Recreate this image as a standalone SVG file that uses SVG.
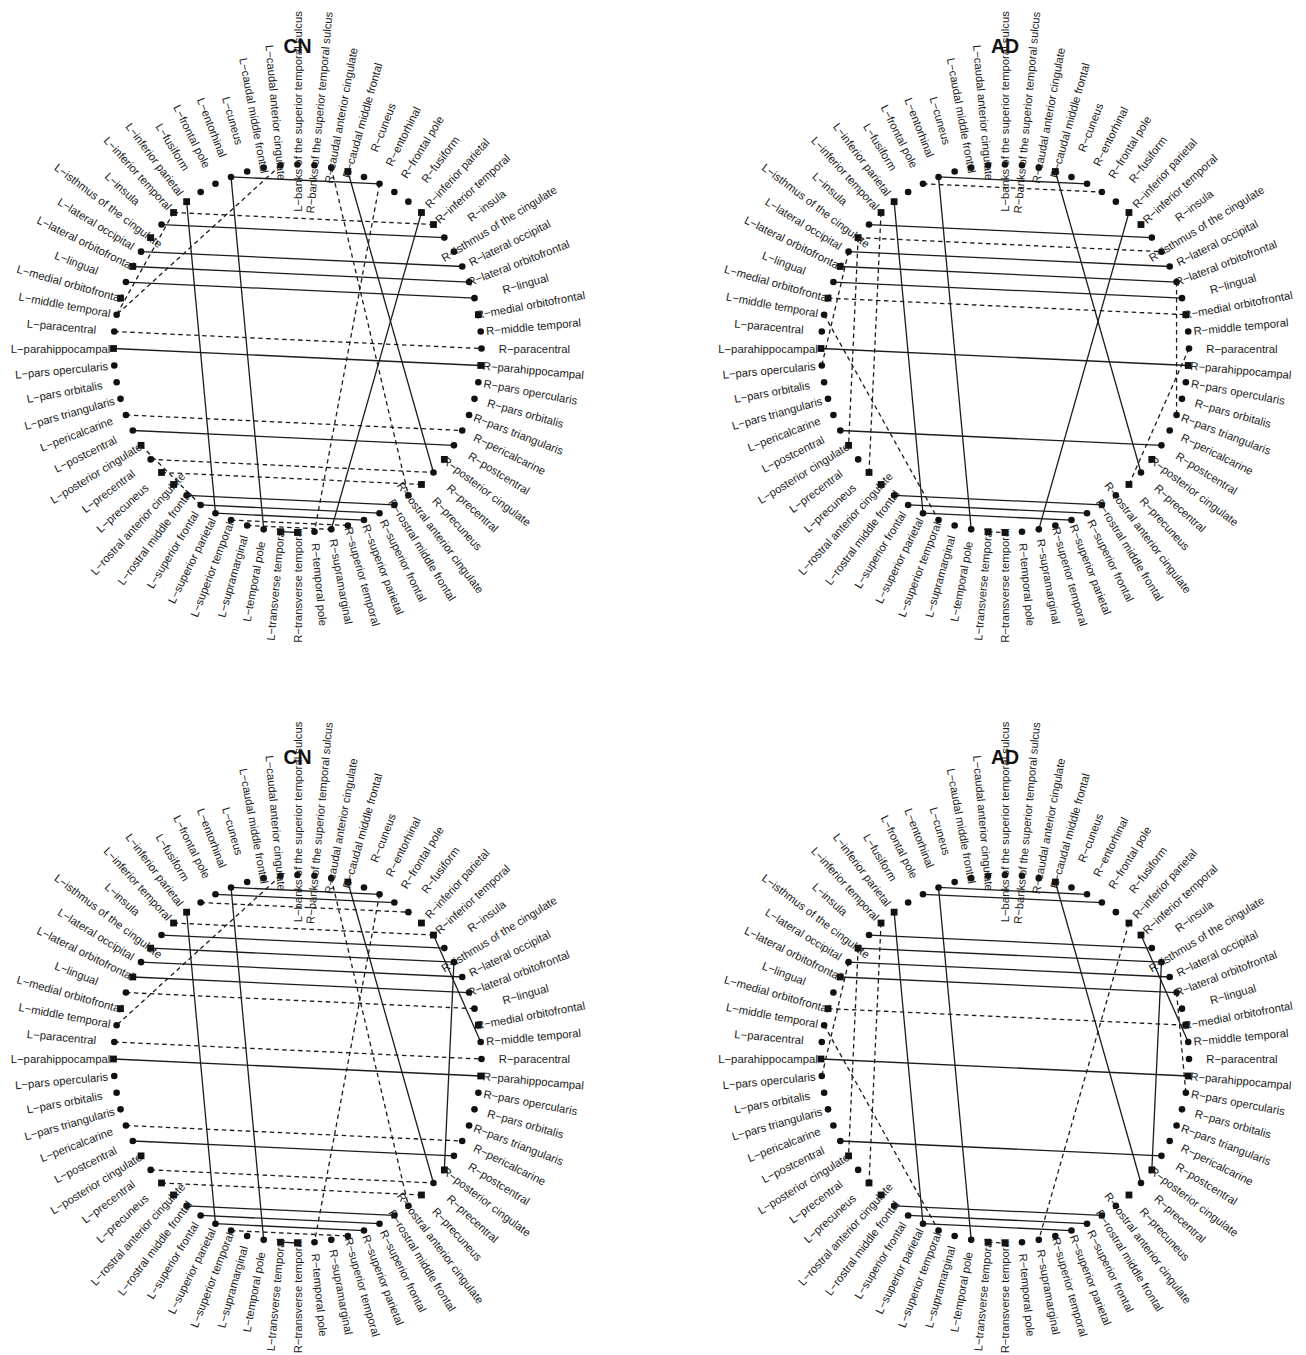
<svg xmlns="http://www.w3.org/2000/svg" xmlns:xlink="http://www.w3.org/1999/xlink" width="1306" height="1355" viewBox="0 0 1306 1355">
<style>
.lbl{font-family:"Liberation Sans",Arial,sans-serif;font-size:11.3px;fill:#1a1a1a;text-anchor:middle;dominant-baseline:central}
.ttl{font-family:"Liberation Sans",Arial,sans-serif;font-size:19.5px;font-weight:bold;fill:#111;text-anchor:middle}
.e line{stroke:#1c1c1c;stroke-width:1.3;fill:none}
.e line.d{stroke-dasharray:4.5 3.5}
.nd{fill:#111}
</style>
<defs>
<circle id="dot" r="3.3"/>
<rect id="sq" x="-3.4" y="-3.4" width="6.8" height="6.8"/>
</defs>
<rect x="0" y="0" width="1306" height="1355" fill="#fff"/>

<!-- ===================== TOP LEFT : CN ===================== -->
<g id="cn1" transform="translate(297.5,348.5)">
<text class="ttl" x="0" y="-295.5">CN</text>
<g id="cn1-edges" class="e">
<line x1="-66.47" y1="-171.57" x2="82.02" y2="-164.71"/>
<line x1="-66.47" y1="-171.57" x2="-33.81" y2="180.87"/>
<line x1="50.35" y1="-176.98" x2="135.98" y2="123.96"/>
<line x1="123.96" y1="-135.98" x2="33.81" y2="180.87"/>
<line x1="-110.88" y1="-146.84" x2="-82.02" y2="164.71"/>
<line x1="-135.98" y1="-123.96" x2="146.84" y2="-110.88"/>
<line x1="-156.44" y1="-96.86" x2="164.71" y2="-82.02"/>
<line x1="-164.71" y1="-82.02" x2="171.57" y2="-66.47"/>
<line x1="-171.57" y1="-66.47" x2="176.98" y2="-50.35"/>
<line x1="-184" y1="0" x2="183.22" y2="16.98"/>
<line x1="-164.71" y1="82.02" x2="156.44" y2="96.86"/>
<line x1="-110.88" y1="146.84" x2="96.86" y2="156.44"/>
<line x1="-96.86" y1="156.44" x2="82.02" y2="164.71"/>
<line x1="-82.02" y1="164.71" x2="66.47" y2="171.57"/>
<line x1="-16.98" y1="183.22" x2="0" y2="184"/>
<line class="d" x1="-123.96" y1="-135.98" x2="135.98" y2="-123.96"/>
<line class="d" x1="-183.22" y1="-16.98" x2="184" y2="0"/>
<line class="d" x1="33.81" y1="-180.87" x2="110.88" y2="146.84"/>
<line class="d" x1="82.02" y1="-164.71" x2="16.98" y2="183.22"/>
<line class="d" x1="-171.57" y1="66.47" x2="164.71" y2="82.02"/>
<line class="d" x1="-146.84" y1="110.88" x2="135.98" y2="123.96"/>
<line class="d" x1="-135.98" y1="123.96" x2="123.96" y2="135.98"/>
<line class="d" x1="-66.47" y1="171.57" x2="50.35" y2="176.98"/>
<line class="d" x1="-50.35" y1="176.98" x2="33.81" y2="180.87"/>
<line class="d" x1="-16.98" y1="-183.22" x2="-180.87" y2="-33.81"/>
<line class="d" x1="-123.96" y1="-135.98" x2="-180.87" y2="-33.81"/>
<line class="d" x1="-156.44" y1="96.86" x2="-96.86" y2="156.44"/>
</g>
<g class="nd">
<g id="cn1-n0"><use href="#dot" x="0" y="-184"/><text class="lbl" transform="translate(0,-237) rotate(-90)">L−banks of the superior temporal sulcus</text></g>
<g id="cn1-n1"><use href="#dot" x="16.98" y="-183.22"/><text class="lbl" transform="translate(21.87,-235.99) rotate(-84.71)">R−banks of the superior temporal sulcus</text></g>
<g id="cn1-n2"><use href="#dot" x="33.81" y="-180.87"/><text class="lbl" transform="translate(43.55,-232.96) rotate(-79.41)">R−caudal anterior cingulate</text></g>
<g id="cn1-n3"><use href="#sq" x="50.35" y="-176.98"/><text class="lbl" transform="translate(64.86,-227.95) rotate(-74.12)">R−caudal middle frontal</text></g>
<g id="cn1-n4"><use href="#dot" x="66.47" y="-171.57"/><text class="lbl" transform="translate(85.61,-221) rotate(-68.82)">R−cuneus</text></g>
<g id="cn1-n5"><use href="#dot" x="82.02" y="-164.71"/><text class="lbl" transform="translate(105.64,-212.15) rotate(-63.53)">R−entorhinal</text></g>
<g id="cn1-n6"><use href="#dot" x="96.86" y="-156.44"/><text class="lbl" transform="translate(124.76,-201.5) rotate(-58.24)">R−frontal pole</text></g>
<g id="cn1-n7"><use href="#dot" x="110.88" y="-146.84"/><text class="lbl" transform="translate(142.82,-189.13) rotate(-52.94)">R−fusiform</text></g>
<g id="cn1-n8"><use href="#sq" x="123.96" y="-135.98"/><text class="lbl" transform="translate(159.67,-175.15) rotate(-47.65)">R−inferior parietal</text></g>
<g id="cn1-n9"><use href="#sq" x="135.98" y="-123.96"/><text class="lbl" transform="translate(175.15,-159.67) rotate(-42.35)">R−inferior temporal</text></g>
<g id="cn1-n10"><use href="#dot" x="146.84" y="-110.88"/><text class="lbl" transform="translate(189.13,-142.82) rotate(-37.06)">R−insula</text></g>
<g id="cn1-n11"><use href="#dot" x="156.44" y="-96.86"/><text class="lbl" transform="translate(201.5,-124.76) rotate(-31.76)">R−isthmus of the cingulate</text></g>
<g id="cn1-n12"><use href="#dot" x="164.71" y="-82.02"/><text class="lbl" transform="translate(212.15,-105.64) rotate(-26.47)">R−lateral occipital</text></g>
<g id="cn1-n13"><use href="#dot" x="171.57" y="-66.47"/><text class="lbl" transform="translate(221,-85.61) rotate(-21.18)">R−lateral orbitofrontal</text></g>
<g id="cn1-n14"><use href="#dot" x="176.98" y="-50.35"/><text class="lbl" transform="translate(227.95,-64.86) rotate(-15.88)">R−lingual</text></g>
<g id="cn1-n15"><use href="#sq" x="180.87" y="-33.81"/><text class="lbl" transform="translate(232.96,-43.55) rotate(-10.59)">R−medial orbitofrontal</text></g>
<g id="cn1-n16"><use href="#dot" x="183.22" y="-16.98"/><text class="lbl" transform="translate(235.99,-21.87) rotate(-5.29)">R−middle temporal</text></g>
<g id="cn1-n17"><use href="#dot" x="184" y="0"/><text class="lbl" transform="translate(237,0)">R−paracentral</text></g>
<g id="cn1-n18"><use href="#sq" x="183.22" y="16.98"/><text class="lbl" transform="translate(235.99,21.87) rotate(5.29)">R−parahippocampal</text></g>
<g id="cn1-n19"><use href="#dot" x="180.87" y="33.81"/><text class="lbl" transform="translate(232.96,43.55) rotate(10.59)">R−pars opercularis</text></g>
<g id="cn1-n20"><use href="#dot" x="176.98" y="50.35"/><text class="lbl" transform="translate(227.95,64.86) rotate(15.88)">R−pars orbitalis</text></g>
<g id="cn1-n21"><use href="#dot" x="171.57" y="66.47"/><text class="lbl" transform="translate(221,85.61) rotate(21.18)">R−pars triangularis</text></g>
<g id="cn1-n22"><use href="#dot" x="164.71" y="82.02"/><text class="lbl" transform="translate(212.15,105.64) rotate(26.47)">R−pericalcarine</text></g>
<g id="cn1-n23"><use href="#dot" x="156.44" y="96.86"/><text class="lbl" transform="translate(201.5,124.76) rotate(31.76)">R−postcentral</text></g>
<g id="cn1-n24"><use href="#sq" x="146.84" y="110.88"/><text class="lbl" transform="translate(189.13,142.82) rotate(37.06)">R−posterior cingulate</text></g>
<g id="cn1-n25"><use href="#dot" x="135.98" y="123.96"/><text class="lbl" transform="translate(175.15,159.67) rotate(42.35)">R−precentral</text></g>
<g id="cn1-n26"><use href="#sq" x="123.96" y="135.98"/><text class="lbl" transform="translate(159.67,175.15) rotate(47.65)">R−precuneus</text></g>
<g id="cn1-n27"><use href="#dot" x="110.88" y="146.84"/><text class="lbl" transform="translate(142.82,189.13) rotate(52.94)">R−rostral anterior cingulate</text></g>
<g id="cn1-n28"><use href="#dot" x="96.86" y="156.44"/><text class="lbl" transform="translate(124.76,201.5) rotate(58.24)">R−rostral middle frontal</text></g>
<g id="cn1-n29"><use href="#dot" x="82.02" y="164.71"/><text class="lbl" transform="translate(105.64,212.15) rotate(63.53)">R−superior frontal</text></g>
<g id="cn1-n30"><use href="#dot" x="66.47" y="171.57"/><text class="lbl" transform="translate(85.61,221) rotate(68.82)">R−superior parietal</text></g>
<g id="cn1-n31"><use href="#dot" x="50.35" y="176.98"/><text class="lbl" transform="translate(64.86,227.95) rotate(74.12)">R−superior temporal</text></g>
<g id="cn1-n32"><use href="#dot" x="33.81" y="180.87"/><text class="lbl" transform="translate(43.55,232.96) rotate(79.41)">R−supramarginal</text></g>
<g id="cn1-n33"><use href="#dot" x="16.98" y="183.22"/><text class="lbl" transform="translate(21.87,235.99) rotate(84.71)">R−temporal pole</text></g>
<g id="cn1-n34"><use href="#sq" x="0" y="184"/><text class="lbl" transform="translate(0,237) rotate(-90)">R−transverse temporal</text></g>
<g id="cn1-n35"><use href="#sq" x="-16.98" y="183.22"/><text class="lbl" transform="translate(-21.87,235.99) rotate(-84.71)">L−transverse temporal</text></g>
<g id="cn1-n36"><use href="#dot" x="-33.81" y="180.87"/><text class="lbl" transform="translate(-43.55,232.96) rotate(-79.41)">L−temporal pole</text></g>
<g id="cn1-n37"><use href="#dot" x="-50.35" y="176.98"/><text class="lbl" transform="translate(-64.86,227.95) rotate(-74.12)">L−supramarginal</text></g>
<g id="cn1-n38"><use href="#dot" x="-66.47" y="171.57"/><text class="lbl" transform="translate(-85.61,221) rotate(-68.82)">L−superior temporal</text></g>
<g id="cn1-n39"><use href="#dot" x="-82.02" y="164.71"/><text class="lbl" transform="translate(-105.64,212.15) rotate(-63.53)">L−superior parietal</text></g>
<g id="cn1-n40"><use href="#dot" x="-96.86" y="156.44"/><text class="lbl" transform="translate(-124.76,201.5) rotate(-58.24)">L−superior frontal</text></g>
<g id="cn1-n41"><use href="#dot" x="-110.88" y="146.84"/><text class="lbl" transform="translate(-142.82,189.13) rotate(-52.94)">L−rostral middle frontal</text></g>
<g id="cn1-n42"><use href="#sq" x="-123.96" y="135.98"/><text class="lbl" transform="translate(-159.67,175.15) rotate(-47.65)">L−rostral anterior cingulate</text></g>
<g id="cn1-n43"><use href="#sq" x="-135.98" y="123.96"/><text class="lbl" transform="translate(-175.15,159.67) rotate(-42.35)">L−precuneus</text></g>
<g id="cn1-n44"><use href="#dot" x="-146.84" y="110.88"/><text class="lbl" transform="translate(-189.13,142.82) rotate(-37.06)">L−precentral</text></g>
<g id="cn1-n45"><use href="#sq" x="-156.44" y="96.86"/><text class="lbl" transform="translate(-201.5,124.76) rotate(-31.76)">L−posterior cingulate</text></g>
<g id="cn1-n46"><use href="#dot" x="-164.71" y="82.02"/><text class="lbl" transform="translate(-212.15,105.64) rotate(-26.47)">L−postcentral</text></g>
<g id="cn1-n47"><use href="#dot" x="-171.57" y="66.47"/><text class="lbl" transform="translate(-221,85.61) rotate(-21.18)">L−pericalcarine</text></g>
<g id="cn1-n48"><use href="#dot" x="-176.98" y="50.35"/><text class="lbl" transform="translate(-227.95,64.86) rotate(-15.88)">L−pars triangularis</text></g>
<g id="cn1-n49"><use href="#dot" x="-180.87" y="33.81"/><text class="lbl" transform="translate(-232.96,43.55) rotate(-10.59)">L−pars orbitalis</text></g>
<g id="cn1-n50"><use href="#dot" x="-183.22" y="16.98"/><text class="lbl" transform="translate(-235.99,21.87) rotate(-5.29)">L−pars opercularis</text></g>
<g id="cn1-n51"><use href="#sq" x="-184" y="0"/><text class="lbl" transform="translate(-237,0)">L−parahippocampal</text></g>
<g id="cn1-n52"><use href="#dot" x="-183.22" y="-16.98"/><text class="lbl" transform="translate(-235.99,-21.87) rotate(5.29)">L−paracentral</text></g>
<g id="cn1-n53"><use href="#dot" x="-180.87" y="-33.81"/><text class="lbl" transform="translate(-232.96,-43.55) rotate(10.59)">L−middle temporal</text></g>
<g id="cn1-n54"><use href="#sq" x="-176.98" y="-50.35"/><text class="lbl" transform="translate(-227.95,-64.86) rotate(15.88)">L−medial orbitofrontal</text></g>
<g id="cn1-n55"><use href="#dot" x="-171.57" y="-66.47"/><text class="lbl" transform="translate(-221,-85.61) rotate(21.18)">L−lingual</text></g>
<g id="cn1-n56"><use href="#sq" x="-164.71" y="-82.02"/><text class="lbl" transform="translate(-212.15,-105.64) rotate(26.47)">L−lateral orbitofrontal</text></g>
<g id="cn1-n57"><use href="#dot" x="-156.44" y="-96.86"/><text class="lbl" transform="translate(-201.5,-124.76) rotate(31.76)">L−lateral occipital</text></g>
<g id="cn1-n58"><use href="#sq" x="-146.84" y="-110.88"/><text class="lbl" transform="translate(-189.13,-142.82) rotate(37.06)">L−isthmus of the cingulate</text></g>
<g id="cn1-n59"><use href="#dot" x="-135.98" y="-123.96"/><text class="lbl" transform="translate(-175.15,-159.67) rotate(42.35)">L−insula</text></g>
<g id="cn1-n60"><use href="#sq" x="-123.96" y="-135.98"/><text class="lbl" transform="translate(-159.67,-175.15) rotate(47.65)">L−inferior temporal</text></g>
<g id="cn1-n61"><use href="#sq" x="-110.88" y="-146.84"/><text class="lbl" transform="translate(-142.82,-189.13) rotate(52.94)">L−inferior parietal</text></g>
<g id="cn1-n62"><use href="#dot" x="-96.86" y="-156.44"/><text class="lbl" transform="translate(-124.76,-201.5) rotate(58.24)">L−fusiform</text></g>
<g id="cn1-n63"><use href="#dot" x="-82.02" y="-164.71"/><text class="lbl" transform="translate(-105.64,-212.15) rotate(63.53)">L−frontal pole</text></g>
<g id="cn1-n64"><use href="#dot" x="-66.47" y="-171.57"/><text class="lbl" transform="translate(-85.61,-221) rotate(68.82)">L−entorhinal</text></g>
<g id="cn1-n65"><use href="#dot" x="-50.35" y="-176.98"/><text class="lbl" transform="translate(-64.86,-227.95) rotate(74.12)">L−cuneus</text></g>
<g id="cn1-n66"><use href="#dot" x="-33.81" y="-180.87"/><text class="lbl" transform="translate(-43.55,-232.96) rotate(79.41)">L−caudal middle frontal</text></g>
<g id="cn1-n67"><use href="#dot" x="-16.98" y="-183.22"/><text class="lbl" transform="translate(-21.87,-235.99) rotate(84.71)">L−caudal anterior cingulate</text></g>
</g>
</g>

<!-- ===================== TOP RIGHT : AD ===================== -->
<g id="ad1" transform="translate(1005,348.5)">
<text class="ttl" x="0" y="-295.5">AD</text>
<g id="ad1-edges" class="e">
<line x1="-66.47" y1="-171.57" x2="82.02" y2="-164.71"/>
<line x1="-66.47" y1="-171.57" x2="-33.81" y2="180.87"/>
<line x1="50.35" y1="-176.98" x2="135.98" y2="123.96"/>
<line x1="123.96" y1="-135.98" x2="33.81" y2="180.87"/>
<line x1="-110.88" y1="-146.84" x2="-82.02" y2="164.71"/>
<line x1="-135.98" y1="-123.96" x2="146.84" y2="-110.88"/>
<line x1="-156.44" y1="-96.86" x2="164.71" y2="-82.02"/>
<line x1="-164.71" y1="-82.02" x2="171.57" y2="-66.47"/>
<line x1="-171.57" y1="-66.47" x2="176.98" y2="-50.35"/>
<line x1="-184" y1="0" x2="183.22" y2="16.98"/>
<line x1="-164.71" y1="82.02" x2="156.44" y2="96.86"/>
<line x1="-110.88" y1="146.84" x2="96.86" y2="156.44"/>
<line x1="-96.86" y1="156.44" x2="82.02" y2="164.71"/>
<line x1="-82.02" y1="164.71" x2="66.47" y2="171.57"/>
<line class="d" x1="-82.02" y1="-164.71" x2="96.86" y2="-156.44"/>
<line class="d" x1="-146.84" y1="-110.88" x2="156.44" y2="-96.86"/>
<line class="d" x1="-176.98" y1="-50.35" x2="180.87" y2="-33.81"/>
<line class="d" x1="-123.96" y1="-135.98" x2="-135.98" y2="123.96"/>
<line class="d" x1="-146.84" y1="-110.88" x2="-156.44" y2="96.86"/>
<line class="d" x1="-180.87" y1="-33.81" x2="-66.47" y2="171.57"/>
<line class="d" x1="-156.44" y1="-96.86" x2="-183.22" y2="16.98"/>
<line class="d" x1="171.57" y1="-66.47" x2="171.57" y2="66.47"/>
<line class="d" x1="184" y1="0" x2="123.96" y2="135.98"/>
<line class="d" x1="-16.98" y1="183.22" x2="0" y2="184"/>
</g>
<g class="nd">
<g id="ad1-n0"><use href="#dot" x="0" y="-184"/><text class="lbl" transform="translate(0,-237) rotate(-90)">L−banks of the superior temporal sulcus</text></g>
<g id="ad1-n1"><use href="#dot" x="16.98" y="-183.22"/><text class="lbl" transform="translate(21.87,-235.99) rotate(-84.71)">R−banks of the superior temporal sulcus</text></g>
<g id="ad1-n2"><use href="#dot" x="33.81" y="-180.87"/><text class="lbl" transform="translate(43.55,-232.96) rotate(-79.41)">R−caudal anterior cingulate</text></g>
<g id="ad1-n3"><use href="#sq" x="50.35" y="-176.98"/><text class="lbl" transform="translate(64.86,-227.95) rotate(-74.12)">R−caudal middle frontal</text></g>
<g id="ad1-n4"><use href="#dot" x="66.47" y="-171.57"/><text class="lbl" transform="translate(85.61,-221) rotate(-68.82)">R−cuneus</text></g>
<g id="ad1-n5"><use href="#dot" x="82.02" y="-164.71"/><text class="lbl" transform="translate(105.64,-212.15) rotate(-63.53)">R−entorhinal</text></g>
<g id="ad1-n6"><use href="#dot" x="96.86" y="-156.44"/><text class="lbl" transform="translate(124.76,-201.5) rotate(-58.24)">R−frontal pole</text></g>
<g id="ad1-n7"><use href="#dot" x="110.88" y="-146.84"/><text class="lbl" transform="translate(142.82,-189.13) rotate(-52.94)">R−fusiform</text></g>
<g id="ad1-n8"><use href="#sq" x="123.96" y="-135.98"/><text class="lbl" transform="translate(159.67,-175.15) rotate(-47.65)">R−inferior parietal</text></g>
<g id="ad1-n9"><use href="#sq" x="135.98" y="-123.96"/><text class="lbl" transform="translate(175.15,-159.67) rotate(-42.35)">R−inferior temporal</text></g>
<g id="ad1-n10"><use href="#dot" x="146.84" y="-110.88"/><text class="lbl" transform="translate(189.13,-142.82) rotate(-37.06)">R−insula</text></g>
<g id="ad1-n11"><use href="#dot" x="156.44" y="-96.86"/><text class="lbl" transform="translate(201.5,-124.76) rotate(-31.76)">R−isthmus of the cingulate</text></g>
<g id="ad1-n12"><use href="#dot" x="164.71" y="-82.02"/><text class="lbl" transform="translate(212.15,-105.64) rotate(-26.47)">R−lateral occipital</text></g>
<g id="ad1-n13"><use href="#dot" x="171.57" y="-66.47"/><text class="lbl" transform="translate(221,-85.61) rotate(-21.18)">R−lateral orbitofrontal</text></g>
<g id="ad1-n14"><use href="#dot" x="176.98" y="-50.35"/><text class="lbl" transform="translate(227.95,-64.86) rotate(-15.88)">R−lingual</text></g>
<g id="ad1-n15"><use href="#sq" x="180.87" y="-33.81"/><text class="lbl" transform="translate(232.96,-43.55) rotate(-10.59)">R−medial orbitofrontal</text></g>
<g id="ad1-n16"><use href="#dot" x="183.22" y="-16.98"/><text class="lbl" transform="translate(235.99,-21.87) rotate(-5.29)">R−middle temporal</text></g>
<g id="ad1-n17"><use href="#dot" x="184" y="0"/><text class="lbl" transform="translate(237,0)">R−paracentral</text></g>
<g id="ad1-n18"><use href="#sq" x="183.22" y="16.98"/><text class="lbl" transform="translate(235.99,21.87) rotate(5.29)">R−parahippocampal</text></g>
<g id="ad1-n19"><use href="#dot" x="180.87" y="33.81"/><text class="lbl" transform="translate(232.96,43.55) rotate(10.59)">R−pars opercularis</text></g>
<g id="ad1-n20"><use href="#dot" x="176.98" y="50.35"/><text class="lbl" transform="translate(227.95,64.86) rotate(15.88)">R−pars orbitalis</text></g>
<g id="ad1-n21"><use href="#dot" x="171.57" y="66.47"/><text class="lbl" transform="translate(221,85.61) rotate(21.18)">R−pars triangularis</text></g>
<g id="ad1-n22"><use href="#dot" x="164.71" y="82.02"/><text class="lbl" transform="translate(212.15,105.64) rotate(26.47)">R−pericalcarine</text></g>
<g id="ad1-n23"><use href="#dot" x="156.44" y="96.86"/><text class="lbl" transform="translate(201.5,124.76) rotate(31.76)">R−postcentral</text></g>
<g id="ad1-n24"><use href="#sq" x="146.84" y="110.88"/><text class="lbl" transform="translate(189.13,142.82) rotate(37.06)">R−posterior cingulate</text></g>
<g id="ad1-n25"><use href="#dot" x="135.98" y="123.96"/><text class="lbl" transform="translate(175.15,159.67) rotate(42.35)">R−precentral</text></g>
<g id="ad1-n26"><use href="#sq" x="123.96" y="135.98"/><text class="lbl" transform="translate(159.67,175.15) rotate(47.65)">R−precuneus</text></g>
<g id="ad1-n27"><use href="#dot" x="110.88" y="146.84"/><text class="lbl" transform="translate(142.82,189.13) rotate(52.94)">R−rostral anterior cingulate</text></g>
<g id="ad1-n28"><use href="#dot" x="96.86" y="156.44"/><text class="lbl" transform="translate(124.76,201.5) rotate(58.24)">R−rostral middle frontal</text></g>
<g id="ad1-n29"><use href="#dot" x="82.02" y="164.71"/><text class="lbl" transform="translate(105.64,212.15) rotate(63.53)">R−superior frontal</text></g>
<g id="ad1-n30"><use href="#dot" x="66.47" y="171.57"/><text class="lbl" transform="translate(85.61,221) rotate(68.82)">R−superior parietal</text></g>
<g id="ad1-n31"><use href="#dot" x="50.35" y="176.98"/><text class="lbl" transform="translate(64.86,227.95) rotate(74.12)">R−superior temporal</text></g>
<g id="ad1-n32"><use href="#dot" x="33.81" y="180.87"/><text class="lbl" transform="translate(43.55,232.96) rotate(79.41)">R−supramarginal</text></g>
<g id="ad1-n33"><use href="#dot" x="16.98" y="183.22"/><text class="lbl" transform="translate(21.87,235.99) rotate(84.71)">R−temporal pole</text></g>
<g id="ad1-n34"><use href="#sq" x="0" y="184"/><text class="lbl" transform="translate(0,237) rotate(-90)">R−transverse temporal</text></g>
<g id="ad1-n35"><use href="#sq" x="-16.98" y="183.22"/><text class="lbl" transform="translate(-21.87,235.99) rotate(-84.71)">L−transverse temporal</text></g>
<g id="ad1-n36"><use href="#dot" x="-33.81" y="180.87"/><text class="lbl" transform="translate(-43.55,232.96) rotate(-79.41)">L−temporal pole</text></g>
<g id="ad1-n37"><use href="#dot" x="-50.35" y="176.98"/><text class="lbl" transform="translate(-64.86,227.95) rotate(-74.12)">L−supramarginal</text></g>
<g id="ad1-n38"><use href="#dot" x="-66.47" y="171.57"/><text class="lbl" transform="translate(-85.61,221) rotate(-68.82)">L−superior temporal</text></g>
<g id="ad1-n39"><use href="#dot" x="-82.02" y="164.71"/><text class="lbl" transform="translate(-105.64,212.15) rotate(-63.53)">L−superior parietal</text></g>
<g id="ad1-n40"><use href="#dot" x="-96.86" y="156.44"/><text class="lbl" transform="translate(-124.76,201.5) rotate(-58.24)">L−superior frontal</text></g>
<g id="ad1-n41"><use href="#dot" x="-110.88" y="146.84"/><text class="lbl" transform="translate(-142.82,189.13) rotate(-52.94)">L−rostral middle frontal</text></g>
<g id="ad1-n42"><use href="#sq" x="-123.96" y="135.98"/><text class="lbl" transform="translate(-159.67,175.15) rotate(-47.65)">L−rostral anterior cingulate</text></g>
<g id="ad1-n43"><use href="#sq" x="-135.98" y="123.96"/><text class="lbl" transform="translate(-175.15,159.67) rotate(-42.35)">L−precuneus</text></g>
<g id="ad1-n44"><use href="#dot" x="-146.84" y="110.88"/><text class="lbl" transform="translate(-189.13,142.82) rotate(-37.06)">L−precentral</text></g>
<g id="ad1-n45"><use href="#sq" x="-156.44" y="96.86"/><text class="lbl" transform="translate(-201.5,124.76) rotate(-31.76)">L−posterior cingulate</text></g>
<g id="ad1-n46"><use href="#dot" x="-164.71" y="82.02"/><text class="lbl" transform="translate(-212.15,105.64) rotate(-26.47)">L−postcentral</text></g>
<g id="ad1-n47"><use href="#dot" x="-171.57" y="66.47"/><text class="lbl" transform="translate(-221,85.61) rotate(-21.18)">L−pericalcarine</text></g>
<g id="ad1-n48"><use href="#dot" x="-176.98" y="50.35"/><text class="lbl" transform="translate(-227.95,64.86) rotate(-15.88)">L−pars triangularis</text></g>
<g id="ad1-n49"><use href="#dot" x="-180.87" y="33.81"/><text class="lbl" transform="translate(-232.96,43.55) rotate(-10.59)">L−pars orbitalis</text></g>
<g id="ad1-n50"><use href="#dot" x="-183.22" y="16.98"/><text class="lbl" transform="translate(-235.99,21.87) rotate(-5.29)">L−pars opercularis</text></g>
<g id="ad1-n51"><use href="#sq" x="-184" y="0"/><text class="lbl" transform="translate(-237,0)">L−parahippocampal</text></g>
<g id="ad1-n52"><use href="#dot" x="-183.22" y="-16.98"/><text class="lbl" transform="translate(-235.99,-21.87) rotate(5.29)">L−paracentral</text></g>
<g id="ad1-n53"><use href="#dot" x="-180.87" y="-33.81"/><text class="lbl" transform="translate(-232.96,-43.55) rotate(10.59)">L−middle temporal</text></g>
<g id="ad1-n54"><use href="#sq" x="-176.98" y="-50.35"/><text class="lbl" transform="translate(-227.95,-64.86) rotate(15.88)">L−medial orbitofrontal</text></g>
<g id="ad1-n55"><use href="#dot" x="-171.57" y="-66.47"/><text class="lbl" transform="translate(-221,-85.61) rotate(21.18)">L−lingual</text></g>
<g id="ad1-n56"><use href="#sq" x="-164.71" y="-82.02"/><text class="lbl" transform="translate(-212.15,-105.64) rotate(26.47)">L−lateral orbitofrontal</text></g>
<g id="ad1-n57"><use href="#dot" x="-156.44" y="-96.86"/><text class="lbl" transform="translate(-201.5,-124.76) rotate(31.76)">L−lateral occipital</text></g>
<g id="ad1-n58"><use href="#sq" x="-146.84" y="-110.88"/><text class="lbl" transform="translate(-189.13,-142.82) rotate(37.06)">L−isthmus of the cingulate</text></g>
<g id="ad1-n59"><use href="#dot" x="-135.98" y="-123.96"/><text class="lbl" transform="translate(-175.15,-159.67) rotate(42.35)">L−insula</text></g>
<g id="ad1-n60"><use href="#sq" x="-123.96" y="-135.98"/><text class="lbl" transform="translate(-159.67,-175.15) rotate(47.65)">L−inferior temporal</text></g>
<g id="ad1-n61"><use href="#sq" x="-110.88" y="-146.84"/><text class="lbl" transform="translate(-142.82,-189.13) rotate(52.94)">L−inferior parietal</text></g>
<g id="ad1-n62"><use href="#dot" x="-96.86" y="-156.44"/><text class="lbl" transform="translate(-124.76,-201.5) rotate(58.24)">L−fusiform</text></g>
<g id="ad1-n63"><use href="#dot" x="-82.02" y="-164.71"/><text class="lbl" transform="translate(-105.64,-212.15) rotate(63.53)">L−frontal pole</text></g>
<g id="ad1-n64"><use href="#dot" x="-66.47" y="-171.57"/><text class="lbl" transform="translate(-85.61,-221) rotate(68.82)">L−entorhinal</text></g>
<g id="ad1-n65"><use href="#dot" x="-50.35" y="-176.98"/><text class="lbl" transform="translate(-64.86,-227.95) rotate(74.12)">L−cuneus</text></g>
<g id="ad1-n66"><use href="#dot" x="-33.81" y="-180.87"/><text class="lbl" transform="translate(-43.55,-232.96) rotate(79.41)">L−caudal middle frontal</text></g>
<g id="ad1-n67"><use href="#dot" x="-16.98" y="-183.22"/><text class="lbl" transform="translate(-21.87,-235.99) rotate(84.71)">L−caudal anterior cingulate</text></g>
</g>
</g>

<!-- ===================== BOTTOM LEFT : CN ===================== -->
<g id="cn2" transform="translate(297.5,1059)">
<text class="ttl" x="0" y="-295.5">CN</text>
<g id="cn2-edges" class="e">
<line x1="-66.47" y1="-171.57" x2="82.02" y2="-164.71"/>
<line x1="-82.02" y1="-164.71" x2="96.86" y2="-156.44"/>
<line x1="-135.98" y1="-123.96" x2="146.84" y2="-110.88"/>
<line x1="-146.84" y1="-110.88" x2="156.44" y2="-96.86"/>
<line x1="-156.44" y1="-96.86" x2="164.71" y2="-82.02"/>
<line x1="-164.71" y1="-82.02" x2="171.57" y2="-66.47"/>
<line x1="-184" y1="0" x2="183.22" y2="16.98"/>
<line x1="-66.47" y1="-171.57" x2="-33.81" y2="180.87"/>
<line x1="50.35" y1="-176.98" x2="135.98" y2="123.96"/>
<line x1="-110.88" y1="-146.84" x2="-82.02" y2="164.71"/>
<line x1="135.98" y1="-123.96" x2="183.22" y2="-16.98"/>
<line x1="156.44" y1="-96.86" x2="146.84" y2="110.88"/>
<line x1="-164.71" y1="82.02" x2="156.44" y2="96.86"/>
<line x1="-110.88" y1="146.84" x2="96.86" y2="156.44"/>
<line x1="-96.86" y1="156.44" x2="82.02" y2="164.71"/>
<line x1="-82.02" y1="164.71" x2="66.47" y2="171.57"/>
<line x1="-16.98" y1="183.22" x2="0" y2="184"/>
<line class="d" x1="-96.86" y1="-156.44" x2="110.88" y2="-146.84"/>
<line class="d" x1="-123.96" y1="-135.98" x2="135.98" y2="-123.96"/>
<line class="d" x1="-171.57" y1="-66.47" x2="176.98" y2="-50.35"/>
<line class="d" x1="-183.22" y1="-16.98" x2="184" y2="0"/>
<line class="d" x1="33.81" y1="-180.87" x2="110.88" y2="146.84"/>
<line class="d" x1="82.02" y1="-164.71" x2="16.98" y2="183.22"/>
<line class="d" x1="-171.57" y1="66.47" x2="164.71" y2="82.02"/>
<line class="d" x1="-146.84" y1="110.88" x2="135.98" y2="123.96"/>
<line class="d" x1="-135.98" y1="123.96" x2="123.96" y2="135.98"/>
<line class="d" x1="-66.47" y1="171.57" x2="50.35" y2="176.98"/>
<line class="d" x1="-16.98" y1="-183.22" x2="-180.87" y2="-33.81"/>
</g>
<g class="nd">
<g id="cn2-n0"><use href="#dot" x="0" y="-184"/><text class="lbl" transform="translate(0,-237) rotate(-90)">L−banks of the superior temporal sulcus</text></g>
<g id="cn2-n1"><use href="#dot" x="16.98" y="-183.22"/><text class="lbl" transform="translate(21.87,-235.99) rotate(-84.71)">R−banks of the superior temporal sulcus</text></g>
<g id="cn2-n2"><use href="#dot" x="33.81" y="-180.87"/><text class="lbl" transform="translate(43.55,-232.96) rotate(-79.41)">R−caudal anterior cingulate</text></g>
<g id="cn2-n3"><use href="#sq" x="50.35" y="-176.98"/><text class="lbl" transform="translate(64.86,-227.95) rotate(-74.12)">R−caudal middle frontal</text></g>
<g id="cn2-n4"><use href="#dot" x="66.47" y="-171.57"/><text class="lbl" transform="translate(85.61,-221) rotate(-68.82)">R−cuneus</text></g>
<g id="cn2-n5"><use href="#dot" x="82.02" y="-164.71"/><text class="lbl" transform="translate(105.64,-212.15) rotate(-63.53)">R−entorhinal</text></g>
<g id="cn2-n6"><use href="#dot" x="96.86" y="-156.44"/><text class="lbl" transform="translate(124.76,-201.5) rotate(-58.24)">R−frontal pole</text></g>
<g id="cn2-n7"><use href="#dot" x="110.88" y="-146.84"/><text class="lbl" transform="translate(142.82,-189.13) rotate(-52.94)">R−fusiform</text></g>
<g id="cn2-n8"><use href="#sq" x="123.96" y="-135.98"/><text class="lbl" transform="translate(159.67,-175.15) rotate(-47.65)">R−inferior parietal</text></g>
<g id="cn2-n9"><use href="#sq" x="135.98" y="-123.96"/><text class="lbl" transform="translate(175.15,-159.67) rotate(-42.35)">R−inferior temporal</text></g>
<g id="cn2-n10"><use href="#dot" x="146.84" y="-110.88"/><text class="lbl" transform="translate(189.13,-142.82) rotate(-37.06)">R−insula</text></g>
<g id="cn2-n11"><use href="#dot" x="156.44" y="-96.86"/><text class="lbl" transform="translate(201.5,-124.76) rotate(-31.76)">R−isthmus of the cingulate</text></g>
<g id="cn2-n12"><use href="#dot" x="164.71" y="-82.02"/><text class="lbl" transform="translate(212.15,-105.64) rotate(-26.47)">R−lateral occipital</text></g>
<g id="cn2-n13"><use href="#dot" x="171.57" y="-66.47"/><text class="lbl" transform="translate(221,-85.61) rotate(-21.18)">R−lateral orbitofrontal</text></g>
<g id="cn2-n14"><use href="#dot" x="176.98" y="-50.35"/><text class="lbl" transform="translate(227.95,-64.86) rotate(-15.88)">R−lingual</text></g>
<g id="cn2-n15"><use href="#sq" x="180.87" y="-33.81"/><text class="lbl" transform="translate(232.96,-43.55) rotate(-10.59)">R−medial orbitofrontal</text></g>
<g id="cn2-n16"><use href="#dot" x="183.22" y="-16.98"/><text class="lbl" transform="translate(235.99,-21.87) rotate(-5.29)">R−middle temporal</text></g>
<g id="cn2-n17"><use href="#dot" x="184" y="0"/><text class="lbl" transform="translate(237,0)">R−paracentral</text></g>
<g id="cn2-n18"><use href="#sq" x="183.22" y="16.98"/><text class="lbl" transform="translate(235.99,21.87) rotate(5.29)">R−parahippocampal</text></g>
<g id="cn2-n19"><use href="#dot" x="180.87" y="33.81"/><text class="lbl" transform="translate(232.96,43.55) rotate(10.59)">R−pars opercularis</text></g>
<g id="cn2-n20"><use href="#dot" x="176.98" y="50.35"/><text class="lbl" transform="translate(227.95,64.86) rotate(15.88)">R−pars orbitalis</text></g>
<g id="cn2-n21"><use href="#dot" x="171.57" y="66.47"/><text class="lbl" transform="translate(221,85.61) rotate(21.18)">R−pars triangularis</text></g>
<g id="cn2-n22"><use href="#dot" x="164.71" y="82.02"/><text class="lbl" transform="translate(212.15,105.64) rotate(26.47)">R−pericalcarine</text></g>
<g id="cn2-n23"><use href="#dot" x="156.44" y="96.86"/><text class="lbl" transform="translate(201.5,124.76) rotate(31.76)">R−postcentral</text></g>
<g id="cn2-n24"><use href="#sq" x="146.84" y="110.88"/><text class="lbl" transform="translate(189.13,142.82) rotate(37.06)">R−posterior cingulate</text></g>
<g id="cn2-n25"><use href="#dot" x="135.98" y="123.96"/><text class="lbl" transform="translate(175.15,159.67) rotate(42.35)">R−precentral</text></g>
<g id="cn2-n26"><use href="#sq" x="123.96" y="135.98"/><text class="lbl" transform="translate(159.67,175.15) rotate(47.65)">R−precuneus</text></g>
<g id="cn2-n27"><use href="#dot" x="110.88" y="146.84"/><text class="lbl" transform="translate(142.82,189.13) rotate(52.94)">R−rostral anterior cingulate</text></g>
<g id="cn2-n28"><use href="#dot" x="96.86" y="156.44"/><text class="lbl" transform="translate(124.76,201.5) rotate(58.24)">R−rostral middle frontal</text></g>
<g id="cn2-n29"><use href="#dot" x="82.02" y="164.71"/><text class="lbl" transform="translate(105.64,212.15) rotate(63.53)">R−superior frontal</text></g>
<g id="cn2-n30"><use href="#dot" x="66.47" y="171.57"/><text class="lbl" transform="translate(85.61,221) rotate(68.82)">R−superior parietal</text></g>
<g id="cn2-n31"><use href="#dot" x="50.35" y="176.98"/><text class="lbl" transform="translate(64.86,227.95) rotate(74.12)">R−superior temporal</text></g>
<g id="cn2-n32"><use href="#dot" x="33.81" y="180.87"/><text class="lbl" transform="translate(43.55,232.96) rotate(79.41)">R−supramarginal</text></g>
<g id="cn2-n33"><use href="#dot" x="16.98" y="183.22"/><text class="lbl" transform="translate(21.87,235.99) rotate(84.71)">R−temporal pole</text></g>
<g id="cn2-n34"><use href="#sq" x="0" y="184"/><text class="lbl" transform="translate(0,237) rotate(-90)">R−transverse temporal</text></g>
<g id="cn2-n35"><use href="#sq" x="-16.98" y="183.22"/><text class="lbl" transform="translate(-21.87,235.99) rotate(-84.71)">L−transverse temporal</text></g>
<g id="cn2-n36"><use href="#dot" x="-33.81" y="180.87"/><text class="lbl" transform="translate(-43.55,232.96) rotate(-79.41)">L−temporal pole</text></g>
<g id="cn2-n37"><use href="#dot" x="-50.35" y="176.98"/><text class="lbl" transform="translate(-64.86,227.95) rotate(-74.12)">L−supramarginal</text></g>
<g id="cn2-n38"><use href="#dot" x="-66.47" y="171.57"/><text class="lbl" transform="translate(-85.61,221) rotate(-68.82)">L−superior temporal</text></g>
<g id="cn2-n39"><use href="#dot" x="-82.02" y="164.71"/><text class="lbl" transform="translate(-105.64,212.15) rotate(-63.53)">L−superior parietal</text></g>
<g id="cn2-n40"><use href="#dot" x="-96.86" y="156.44"/><text class="lbl" transform="translate(-124.76,201.5) rotate(-58.24)">L−superior frontal</text></g>
<g id="cn2-n41"><use href="#dot" x="-110.88" y="146.84"/><text class="lbl" transform="translate(-142.82,189.13) rotate(-52.94)">L−rostral middle frontal</text></g>
<g id="cn2-n42"><use href="#sq" x="-123.96" y="135.98"/><text class="lbl" transform="translate(-159.67,175.15) rotate(-47.65)">L−rostral anterior cingulate</text></g>
<g id="cn2-n43"><use href="#sq" x="-135.98" y="123.96"/><text class="lbl" transform="translate(-175.15,159.67) rotate(-42.35)">L−precuneus</text></g>
<g id="cn2-n44"><use href="#dot" x="-146.84" y="110.88"/><text class="lbl" transform="translate(-189.13,142.82) rotate(-37.06)">L−precentral</text></g>
<g id="cn2-n45"><use href="#sq" x="-156.44" y="96.86"/><text class="lbl" transform="translate(-201.5,124.76) rotate(-31.76)">L−posterior cingulate</text></g>
<g id="cn2-n46"><use href="#dot" x="-164.71" y="82.02"/><text class="lbl" transform="translate(-212.15,105.64) rotate(-26.47)">L−postcentral</text></g>
<g id="cn2-n47"><use href="#dot" x="-171.57" y="66.47"/><text class="lbl" transform="translate(-221,85.61) rotate(-21.18)">L−pericalcarine</text></g>
<g id="cn2-n48"><use href="#dot" x="-176.98" y="50.35"/><text class="lbl" transform="translate(-227.95,64.86) rotate(-15.88)">L−pars triangularis</text></g>
<g id="cn2-n49"><use href="#dot" x="-180.87" y="33.81"/><text class="lbl" transform="translate(-232.96,43.55) rotate(-10.59)">L−pars orbitalis</text></g>
<g id="cn2-n50"><use href="#dot" x="-183.22" y="16.98"/><text class="lbl" transform="translate(-235.99,21.87) rotate(-5.29)">L−pars opercularis</text></g>
<g id="cn2-n51"><use href="#sq" x="-184" y="0"/><text class="lbl" transform="translate(-237,0)">L−parahippocampal</text></g>
<g id="cn2-n52"><use href="#dot" x="-183.22" y="-16.98"/><text class="lbl" transform="translate(-235.99,-21.87) rotate(5.29)">L−paracentral</text></g>
<g id="cn2-n53"><use href="#dot" x="-180.87" y="-33.81"/><text class="lbl" transform="translate(-232.96,-43.55) rotate(10.59)">L−middle temporal</text></g>
<g id="cn2-n54"><use href="#sq" x="-176.98" y="-50.35"/><text class="lbl" transform="translate(-227.95,-64.86) rotate(15.88)">L−medial orbitofrontal</text></g>
<g id="cn2-n55"><use href="#dot" x="-171.57" y="-66.47"/><text class="lbl" transform="translate(-221,-85.61) rotate(21.18)">L−lingual</text></g>
<g id="cn2-n56"><use href="#sq" x="-164.71" y="-82.02"/><text class="lbl" transform="translate(-212.15,-105.64) rotate(26.47)">L−lateral orbitofrontal</text></g>
<g id="cn2-n57"><use href="#dot" x="-156.44" y="-96.86"/><text class="lbl" transform="translate(-201.5,-124.76) rotate(31.76)">L−lateral occipital</text></g>
<g id="cn2-n58"><use href="#sq" x="-146.84" y="-110.88"/><text class="lbl" transform="translate(-189.13,-142.82) rotate(37.06)">L−isthmus of the cingulate</text></g>
<g id="cn2-n59"><use href="#dot" x="-135.98" y="-123.96"/><text class="lbl" transform="translate(-175.15,-159.67) rotate(42.35)">L−insula</text></g>
<g id="cn2-n60"><use href="#sq" x="-123.96" y="-135.98"/><text class="lbl" transform="translate(-159.67,-175.15) rotate(47.65)">L−inferior temporal</text></g>
<g id="cn2-n61"><use href="#sq" x="-110.88" y="-146.84"/><text class="lbl" transform="translate(-142.82,-189.13) rotate(52.94)">L−inferior parietal</text></g>
<g id="cn2-n62"><use href="#dot" x="-96.86" y="-156.44"/><text class="lbl" transform="translate(-124.76,-201.5) rotate(58.24)">L−fusiform</text></g>
<g id="cn2-n63"><use href="#dot" x="-82.02" y="-164.71"/><text class="lbl" transform="translate(-105.64,-212.15) rotate(63.53)">L−frontal pole</text></g>
<g id="cn2-n64"><use href="#dot" x="-66.47" y="-171.57"/><text class="lbl" transform="translate(-85.61,-221) rotate(68.82)">L−entorhinal</text></g>
<g id="cn2-n65"><use href="#dot" x="-50.35" y="-176.98"/><text class="lbl" transform="translate(-64.86,-227.95) rotate(74.12)">L−cuneus</text></g>
<g id="cn2-n66"><use href="#dot" x="-33.81" y="-180.87"/><text class="lbl" transform="translate(-43.55,-232.96) rotate(79.41)">L−caudal middle frontal</text></g>
<g id="cn2-n67"><use href="#dot" x="-16.98" y="-183.22"/><text class="lbl" transform="translate(-21.87,-235.99) rotate(84.71)">L−caudal anterior cingulate</text></g>
</g>
</g>

<!-- ===================== BOTTOM RIGHT : AD ===================== -->
<g id="ad2" transform="translate(1005,1059)">
<text class="ttl" x="0" y="-295.5">AD</text>
<g id="ad2-edges" class="e">
<line x1="-66.47" y1="-171.57" x2="82.02" y2="-164.71"/>
<line x1="-82.02" y1="-164.71" x2="96.86" y2="-156.44"/>
<line x1="-135.98" y1="-123.96" x2="146.84" y2="-110.88"/>
<line x1="-146.84" y1="-110.88" x2="156.44" y2="-96.86"/>
<line x1="-156.44" y1="-96.86" x2="164.71" y2="-82.02"/>
<line x1="-164.71" y1="-82.02" x2="171.57" y2="-66.47"/>
<line x1="-184" y1="0" x2="183.22" y2="16.98"/>
<line x1="-66.47" y1="-171.57" x2="-33.81" y2="180.87"/>
<line x1="50.35" y1="-176.98" x2="135.98" y2="123.96"/>
<line x1="-110.88" y1="-146.84" x2="-82.02" y2="164.71"/>
<line x1="135.98" y1="-123.96" x2="183.22" y2="-16.98"/>
<line x1="156.44" y1="-96.86" x2="146.84" y2="110.88"/>
<line x1="-164.71" y1="82.02" x2="156.44" y2="96.86"/>
<line x1="-110.88" y1="146.84" x2="96.86" y2="156.44"/>
<line x1="-96.86" y1="156.44" x2="82.02" y2="164.71"/>
<line x1="-82.02" y1="164.71" x2="66.47" y2="171.57"/>
<line class="d" x1="-176.98" y1="-50.35" x2="180.87" y2="-33.81"/>
<line class="d" x1="123.96" y1="-135.98" x2="33.81" y2="180.87"/>
<line class="d" x1="-123.96" y1="-135.98" x2="-135.98" y2="123.96"/>
<line class="d" x1="-146.84" y1="-110.88" x2="-156.44" y2="96.86"/>
<line class="d" x1="-180.87" y1="-33.81" x2="-66.47" y2="171.57"/>
<line class="d" x1="-156.44" y1="-96.86" x2="-183.22" y2="16.98"/>
<line class="d" x1="171.57" y1="-66.47" x2="180.87" y2="33.81"/>
<line class="d" x1="-16.98" y1="183.22" x2="0" y2="184"/>
</g>
<g class="nd">
<g id="ad2-n0"><use href="#dot" x="0" y="-184"/><text class="lbl" transform="translate(0,-237) rotate(-90)">L−banks of the superior temporal sulcus</text></g>
<g id="ad2-n1"><use href="#dot" x="16.98" y="-183.22"/><text class="lbl" transform="translate(21.87,-235.99) rotate(-84.71)">R−banks of the superior temporal sulcus</text></g>
<g id="ad2-n2"><use href="#dot" x="33.81" y="-180.87"/><text class="lbl" transform="translate(43.55,-232.96) rotate(-79.41)">R−caudal anterior cingulate</text></g>
<g id="ad2-n3"><use href="#sq" x="50.35" y="-176.98"/><text class="lbl" transform="translate(64.86,-227.95) rotate(-74.12)">R−caudal middle frontal</text></g>
<g id="ad2-n4"><use href="#dot" x="66.47" y="-171.57"/><text class="lbl" transform="translate(85.61,-221) rotate(-68.82)">R−cuneus</text></g>
<g id="ad2-n5"><use href="#dot" x="82.02" y="-164.71"/><text class="lbl" transform="translate(105.64,-212.15) rotate(-63.53)">R−entorhinal</text></g>
<g id="ad2-n6"><use href="#dot" x="96.86" y="-156.44"/><text class="lbl" transform="translate(124.76,-201.5) rotate(-58.24)">R−frontal pole</text></g>
<g id="ad2-n7"><use href="#dot" x="110.88" y="-146.84"/><text class="lbl" transform="translate(142.82,-189.13) rotate(-52.94)">R−fusiform</text></g>
<g id="ad2-n8"><use href="#sq" x="123.96" y="-135.98"/><text class="lbl" transform="translate(159.67,-175.15) rotate(-47.65)">R−inferior parietal</text></g>
<g id="ad2-n9"><use href="#sq" x="135.98" y="-123.96"/><text class="lbl" transform="translate(175.15,-159.67) rotate(-42.35)">R−inferior temporal</text></g>
<g id="ad2-n10"><use href="#dot" x="146.84" y="-110.88"/><text class="lbl" transform="translate(189.13,-142.82) rotate(-37.06)">R−insula</text></g>
<g id="ad2-n11"><use href="#dot" x="156.44" y="-96.86"/><text class="lbl" transform="translate(201.5,-124.76) rotate(-31.76)">R−isthmus of the cingulate</text></g>
<g id="ad2-n12"><use href="#dot" x="164.71" y="-82.02"/><text class="lbl" transform="translate(212.15,-105.64) rotate(-26.47)">R−lateral occipital</text></g>
<g id="ad2-n13"><use href="#dot" x="171.57" y="-66.47"/><text class="lbl" transform="translate(221,-85.61) rotate(-21.18)">R−lateral orbitofrontal</text></g>
<g id="ad2-n14"><use href="#dot" x="176.98" y="-50.35"/><text class="lbl" transform="translate(227.95,-64.86) rotate(-15.88)">R−lingual</text></g>
<g id="ad2-n15"><use href="#sq" x="180.87" y="-33.81"/><text class="lbl" transform="translate(232.96,-43.55) rotate(-10.59)">R−medial orbitofrontal</text></g>
<g id="ad2-n16"><use href="#dot" x="183.22" y="-16.98"/><text class="lbl" transform="translate(235.99,-21.87) rotate(-5.29)">R−middle temporal</text></g>
<g id="ad2-n17"><use href="#dot" x="184" y="0"/><text class="lbl" transform="translate(237,0)">R−paracentral</text></g>
<g id="ad2-n18"><use href="#sq" x="183.22" y="16.98"/><text class="lbl" transform="translate(235.99,21.87) rotate(5.29)">R−parahippocampal</text></g>
<g id="ad2-n19"><use href="#dot" x="180.87" y="33.81"/><text class="lbl" transform="translate(232.96,43.55) rotate(10.59)">R−pars opercularis</text></g>
<g id="ad2-n20"><use href="#dot" x="176.98" y="50.35"/><text class="lbl" transform="translate(227.95,64.86) rotate(15.88)">R−pars orbitalis</text></g>
<g id="ad2-n21"><use href="#dot" x="171.57" y="66.47"/><text class="lbl" transform="translate(221,85.61) rotate(21.18)">R−pars triangularis</text></g>
<g id="ad2-n22"><use href="#dot" x="164.71" y="82.02"/><text class="lbl" transform="translate(212.15,105.64) rotate(26.47)">R−pericalcarine</text></g>
<g id="ad2-n23"><use href="#dot" x="156.44" y="96.86"/><text class="lbl" transform="translate(201.5,124.76) rotate(31.76)">R−postcentral</text></g>
<g id="ad2-n24"><use href="#sq" x="146.84" y="110.88"/><text class="lbl" transform="translate(189.13,142.82) rotate(37.06)">R−posterior cingulate</text></g>
<g id="ad2-n25"><use href="#dot" x="135.98" y="123.96"/><text class="lbl" transform="translate(175.15,159.67) rotate(42.35)">R−precentral</text></g>
<g id="ad2-n26"><use href="#sq" x="123.96" y="135.98"/><text class="lbl" transform="translate(159.67,175.15) rotate(47.65)">R−precuneus</text></g>
<g id="ad2-n27"><use href="#dot" x="110.88" y="146.84"/><text class="lbl" transform="translate(142.82,189.13) rotate(52.94)">R−rostral anterior cingulate</text></g>
<g id="ad2-n28"><use href="#dot" x="96.86" y="156.44"/><text class="lbl" transform="translate(124.76,201.5) rotate(58.24)">R−rostral middle frontal</text></g>
<g id="ad2-n29"><use href="#dot" x="82.02" y="164.71"/><text class="lbl" transform="translate(105.64,212.15) rotate(63.53)">R−superior frontal</text></g>
<g id="ad2-n30"><use href="#dot" x="66.47" y="171.57"/><text class="lbl" transform="translate(85.61,221) rotate(68.82)">R−superior parietal</text></g>
<g id="ad2-n31"><use href="#dot" x="50.35" y="176.98"/><text class="lbl" transform="translate(64.86,227.95) rotate(74.12)">R−superior temporal</text></g>
<g id="ad2-n32"><use href="#dot" x="33.81" y="180.87"/><text class="lbl" transform="translate(43.55,232.96) rotate(79.41)">R−supramarginal</text></g>
<g id="ad2-n33"><use href="#dot" x="16.98" y="183.22"/><text class="lbl" transform="translate(21.87,235.99) rotate(84.71)">R−temporal pole</text></g>
<g id="ad2-n34"><use href="#sq" x="0" y="184"/><text class="lbl" transform="translate(0,237) rotate(-90)">R−transverse temporal</text></g>
<g id="ad2-n35"><use href="#sq" x="-16.98" y="183.22"/><text class="lbl" transform="translate(-21.87,235.99) rotate(-84.71)">L−transverse temporal</text></g>
<g id="ad2-n36"><use href="#dot" x="-33.81" y="180.87"/><text class="lbl" transform="translate(-43.55,232.96) rotate(-79.41)">L−temporal pole</text></g>
<g id="ad2-n37"><use href="#dot" x="-50.35" y="176.98"/><text class="lbl" transform="translate(-64.86,227.95) rotate(-74.12)">L−supramarginal</text></g>
<g id="ad2-n38"><use href="#dot" x="-66.47" y="171.57"/><text class="lbl" transform="translate(-85.61,221) rotate(-68.82)">L−superior temporal</text></g>
<g id="ad2-n39"><use href="#dot" x="-82.02" y="164.71"/><text class="lbl" transform="translate(-105.64,212.15) rotate(-63.53)">L−superior parietal</text></g>
<g id="ad2-n40"><use href="#dot" x="-96.86" y="156.44"/><text class="lbl" transform="translate(-124.76,201.5) rotate(-58.24)">L−superior frontal</text></g>
<g id="ad2-n41"><use href="#dot" x="-110.88" y="146.84"/><text class="lbl" transform="translate(-142.82,189.13) rotate(-52.94)">L−rostral middle frontal</text></g>
<g id="ad2-n42"><use href="#sq" x="-123.96" y="135.98"/><text class="lbl" transform="translate(-159.67,175.15) rotate(-47.65)">L−rostral anterior cingulate</text></g>
<g id="ad2-n43"><use href="#sq" x="-135.98" y="123.96"/><text class="lbl" transform="translate(-175.15,159.67) rotate(-42.35)">L−precuneus</text></g>
<g id="ad2-n44"><use href="#dot" x="-146.84" y="110.88"/><text class="lbl" transform="translate(-189.13,142.82) rotate(-37.06)">L−precentral</text></g>
<g id="ad2-n45"><use href="#sq" x="-156.44" y="96.86"/><text class="lbl" transform="translate(-201.5,124.76) rotate(-31.76)">L−posterior cingulate</text></g>
<g id="ad2-n46"><use href="#dot" x="-164.71" y="82.02"/><text class="lbl" transform="translate(-212.15,105.64) rotate(-26.47)">L−postcentral</text></g>
<g id="ad2-n47"><use href="#dot" x="-171.57" y="66.47"/><text class="lbl" transform="translate(-221,85.61) rotate(-21.18)">L−pericalcarine</text></g>
<g id="ad2-n48"><use href="#dot" x="-176.98" y="50.35"/><text class="lbl" transform="translate(-227.95,64.86) rotate(-15.88)">L−pars triangularis</text></g>
<g id="ad2-n49"><use href="#dot" x="-180.87" y="33.81"/><text class="lbl" transform="translate(-232.96,43.55) rotate(-10.59)">L−pars orbitalis</text></g>
<g id="ad2-n50"><use href="#dot" x="-183.22" y="16.98"/><text class="lbl" transform="translate(-235.99,21.87) rotate(-5.29)">L−pars opercularis</text></g>
<g id="ad2-n51"><use href="#sq" x="-184" y="0"/><text class="lbl" transform="translate(-237,0)">L−parahippocampal</text></g>
<g id="ad2-n52"><use href="#dot" x="-183.22" y="-16.98"/><text class="lbl" transform="translate(-235.99,-21.87) rotate(5.29)">L−paracentral</text></g>
<g id="ad2-n53"><use href="#dot" x="-180.87" y="-33.81"/><text class="lbl" transform="translate(-232.96,-43.55) rotate(10.59)">L−middle temporal</text></g>
<g id="ad2-n54"><use href="#sq" x="-176.98" y="-50.35"/><text class="lbl" transform="translate(-227.95,-64.86) rotate(15.88)">L−medial orbitofrontal</text></g>
<g id="ad2-n55"><use href="#dot" x="-171.57" y="-66.47"/><text class="lbl" transform="translate(-221,-85.61) rotate(21.18)">L−lingual</text></g>
<g id="ad2-n56"><use href="#sq" x="-164.71" y="-82.02"/><text class="lbl" transform="translate(-212.15,-105.64) rotate(26.47)">L−lateral orbitofrontal</text></g>
<g id="ad2-n57"><use href="#dot" x="-156.44" y="-96.86"/><text class="lbl" transform="translate(-201.5,-124.76) rotate(31.76)">L−lateral occipital</text></g>
<g id="ad2-n58"><use href="#sq" x="-146.84" y="-110.88"/><text class="lbl" transform="translate(-189.13,-142.82) rotate(37.06)">L−isthmus of the cingulate</text></g>
<g id="ad2-n59"><use href="#dot" x="-135.98" y="-123.96"/><text class="lbl" transform="translate(-175.15,-159.67) rotate(42.35)">L−insula</text></g>
<g id="ad2-n60"><use href="#sq" x="-123.96" y="-135.98"/><text class="lbl" transform="translate(-159.67,-175.15) rotate(47.65)">L−inferior temporal</text></g>
<g id="ad2-n61"><use href="#sq" x="-110.88" y="-146.84"/><text class="lbl" transform="translate(-142.82,-189.13) rotate(52.94)">L−inferior parietal</text></g>
<g id="ad2-n62"><use href="#dot" x="-96.86" y="-156.44"/><text class="lbl" transform="translate(-124.76,-201.5) rotate(58.24)">L−fusiform</text></g>
<g id="ad2-n63"><use href="#dot" x="-82.02" y="-164.71"/><text class="lbl" transform="translate(-105.64,-212.15) rotate(63.53)">L−frontal pole</text></g>
<g id="ad2-n64"><use href="#dot" x="-66.47" y="-171.57"/><text class="lbl" transform="translate(-85.61,-221) rotate(68.82)">L−entorhinal</text></g>
<g id="ad2-n65"><use href="#dot" x="-50.35" y="-176.98"/><text class="lbl" transform="translate(-64.86,-227.95) rotate(74.12)">L−cuneus</text></g>
<g id="ad2-n66"><use href="#dot" x="-33.81" y="-180.87"/><text class="lbl" transform="translate(-43.55,-232.96) rotate(79.41)">L−caudal middle frontal</text></g>
<g id="ad2-n67"><use href="#dot" x="-16.98" y="-183.22"/><text class="lbl" transform="translate(-21.87,-235.99) rotate(84.71)">L−caudal anterior cingulate</text></g>
</g>
</g>
</svg>
